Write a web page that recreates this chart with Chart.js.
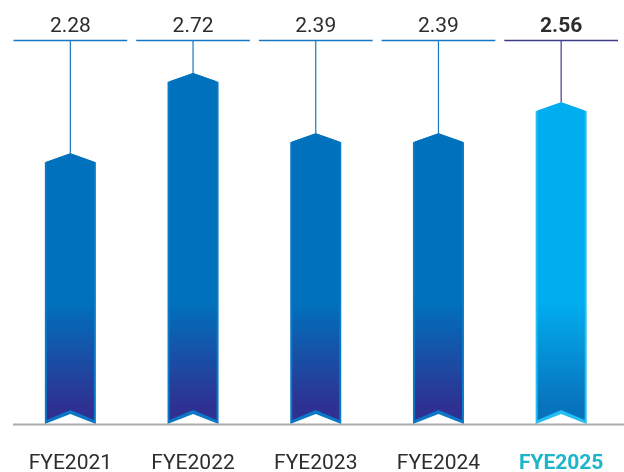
<!DOCTYPE html>
<html>
<head>
<meta charset="utf-8">
<script src="https://cdn.jsdelivr.net/npm/chart.js@4/dist/chart.umd.min.js"></script>
<style>
  html, body { margin: 0; padding: 0; background: #ffffff; }
  #wrap { width: 624px; height: 472px; }
</style>
</head>
<body>
<div id="wrap"><canvas id="c" width="624" height="472"></canvas></div>
<script>
// Financial-year categories and their values
const categories = ['FYE2021', 'FYE2022', 'FYE2023', 'FYE2024', 'FYE2025'];
const values = [2.28, 2.72, 2.39, 2.39, 2.56];
const highlightIndex = 4;

// Value range shown on the hidden y axis
const yMin = 0.8;
const yMax = 2.9;

const textColor = '#2d2d2d';
const highlightText = '#1db5c9';

// Draws the ribbon-shaped bars, the value callouts and the base line
const ribbonBars = {
  id: 'ribbonBars',
  afterDatasetsDraw(chart) {
    const { ctx, chartArea } = chart;
    const meta = chart.getDatasetMeta(0);
    const catW = (chartArea.right - chartArea.left) / categories.length;
    const calloutY = chartArea.top + 0.5;
    const base = chartArea.bottom;

    ctx.save();
    meta.data.forEach((bar, i) => {
      const hi = i === highlightIndex;
      const cx = bar.x, top = bar.y, hw = bar.width / 2;
      const peak = 9, notch = 10, side = 2, bottom = 4;

      // outer ribbon outline
      ctx.beginPath();
      ctx.moveTo(cx, top);
      ctx.lineTo(cx + hw, top + peak);
      ctx.lineTo(cx + hw, base);
      ctx.lineTo(cx, base - notch);
      ctx.lineTo(cx - hw, base);
      ctx.lineTo(cx - hw, top + peak);
      ctx.closePath();
      ctx.fillStyle = hi ? '#22bdf2' : '#0a78c6';
      ctx.fill();

      // inner gradient body
      const g = ctx.createLinearGradient(0, base - 122, 0, base - 18);
      if (hi) {
        g.addColorStop(0, '#00adee');
        g.addColorStop(1, '#0873bd');
      } else {
        g.addColorStop(0, '#0071bc');
        g.addColorStop(1, '#2e3192');
      }
      ctx.beginPath();
      ctx.moveTo(cx, top);
      ctx.lineTo(cx + hw - side, top + peak * (hw - side) / hw);
      ctx.lineTo(cx + hw - side, base - bottom);
      ctx.lineTo(cx, base - notch - bottom);
      ctx.lineTo(cx - hw + side, base - bottom);
      ctx.lineTo(cx - hw + side, top + peak * (hw - side) / hw);
      ctx.closePath();
      ctx.fillStyle = g;
      ctx.fill();

      // callout: horizontal rule, stem down to the bar, value text
      const lineColor = hi ? '#3f3c8f' : '#1678c4';
      ctx.strokeStyle = lineColor;
      ctx.lineWidth = 1.5;
      ctx.beginPath();
      ctx.moveTo(cx - catW / 2 + 4.5, calloutY);
      ctx.lineTo(cx + catW / 2 - 4.5, calloutY);
      ctx.stroke();
      ctx.lineWidth = 1.2;
      ctx.beginPath();
      ctx.moveTo(cx, calloutY);
      ctx.lineTo(cx, top);
      ctx.stroke();

      ctx.fillStyle = textColor;
      ctx.font = (hi ? 'bold ' : '') + '21px Roboto';
      ctx.textAlign = 'center';
      ctx.textBaseline = 'alphabetic';
      ctx.fillText(values[i].toFixed(2), cx, 32);
    });

    // base line
    ctx.strokeStyle = '#ababab';
    ctx.lineWidth = 2;
    ctx.beginPath();
    ctx.moveTo(13, base + 0.5);
    ctx.lineTo(624, base + 0.5);
    ctx.stroke();
    ctx.restore();
  }
};

new Chart(document.getElementById('c'), {
  type: 'bar',
  data: {
    labels: categories,
    datasets: [{
      data: values,
      backgroundColor: 'rgba(0,0,0,0)',
      borderWidth: 0,
      barThickness: 51
    }]
  },
  options: {
    responsive: false,
    animation: false,
    events: [],
    layout: { padding: { top: 40, left: 9, right: 1.5, bottom: 0 } },
    plugins: {
      legend: { display: false },
      tooltip: { enabled: false }
    },
    scales: {
      x: {
        grid: { display: false, drawTicks: false },
        border: { display: false },
        afterFit: (scale) => {
          scale.height = 48;
          scale.paddingLeft = 0;
          scale.paddingRight = 0;
        },
        ticks: {
          padding: 29,
          color: (c) => c.index === highlightIndex ? highlightText : textColor,
          font: (c) => ({
            family: 'Roboto',
            size: 21,
            lineHeight: 1,
            weight: c.index === highlightIndex ? 'bold' : 'normal'
          })
        }
      },
      y: {
        display: false,
        min: yMin,
        max: yMax
      }
    }
  },
  plugins: [ribbonBars]
});
</script>
</body>
</html>
